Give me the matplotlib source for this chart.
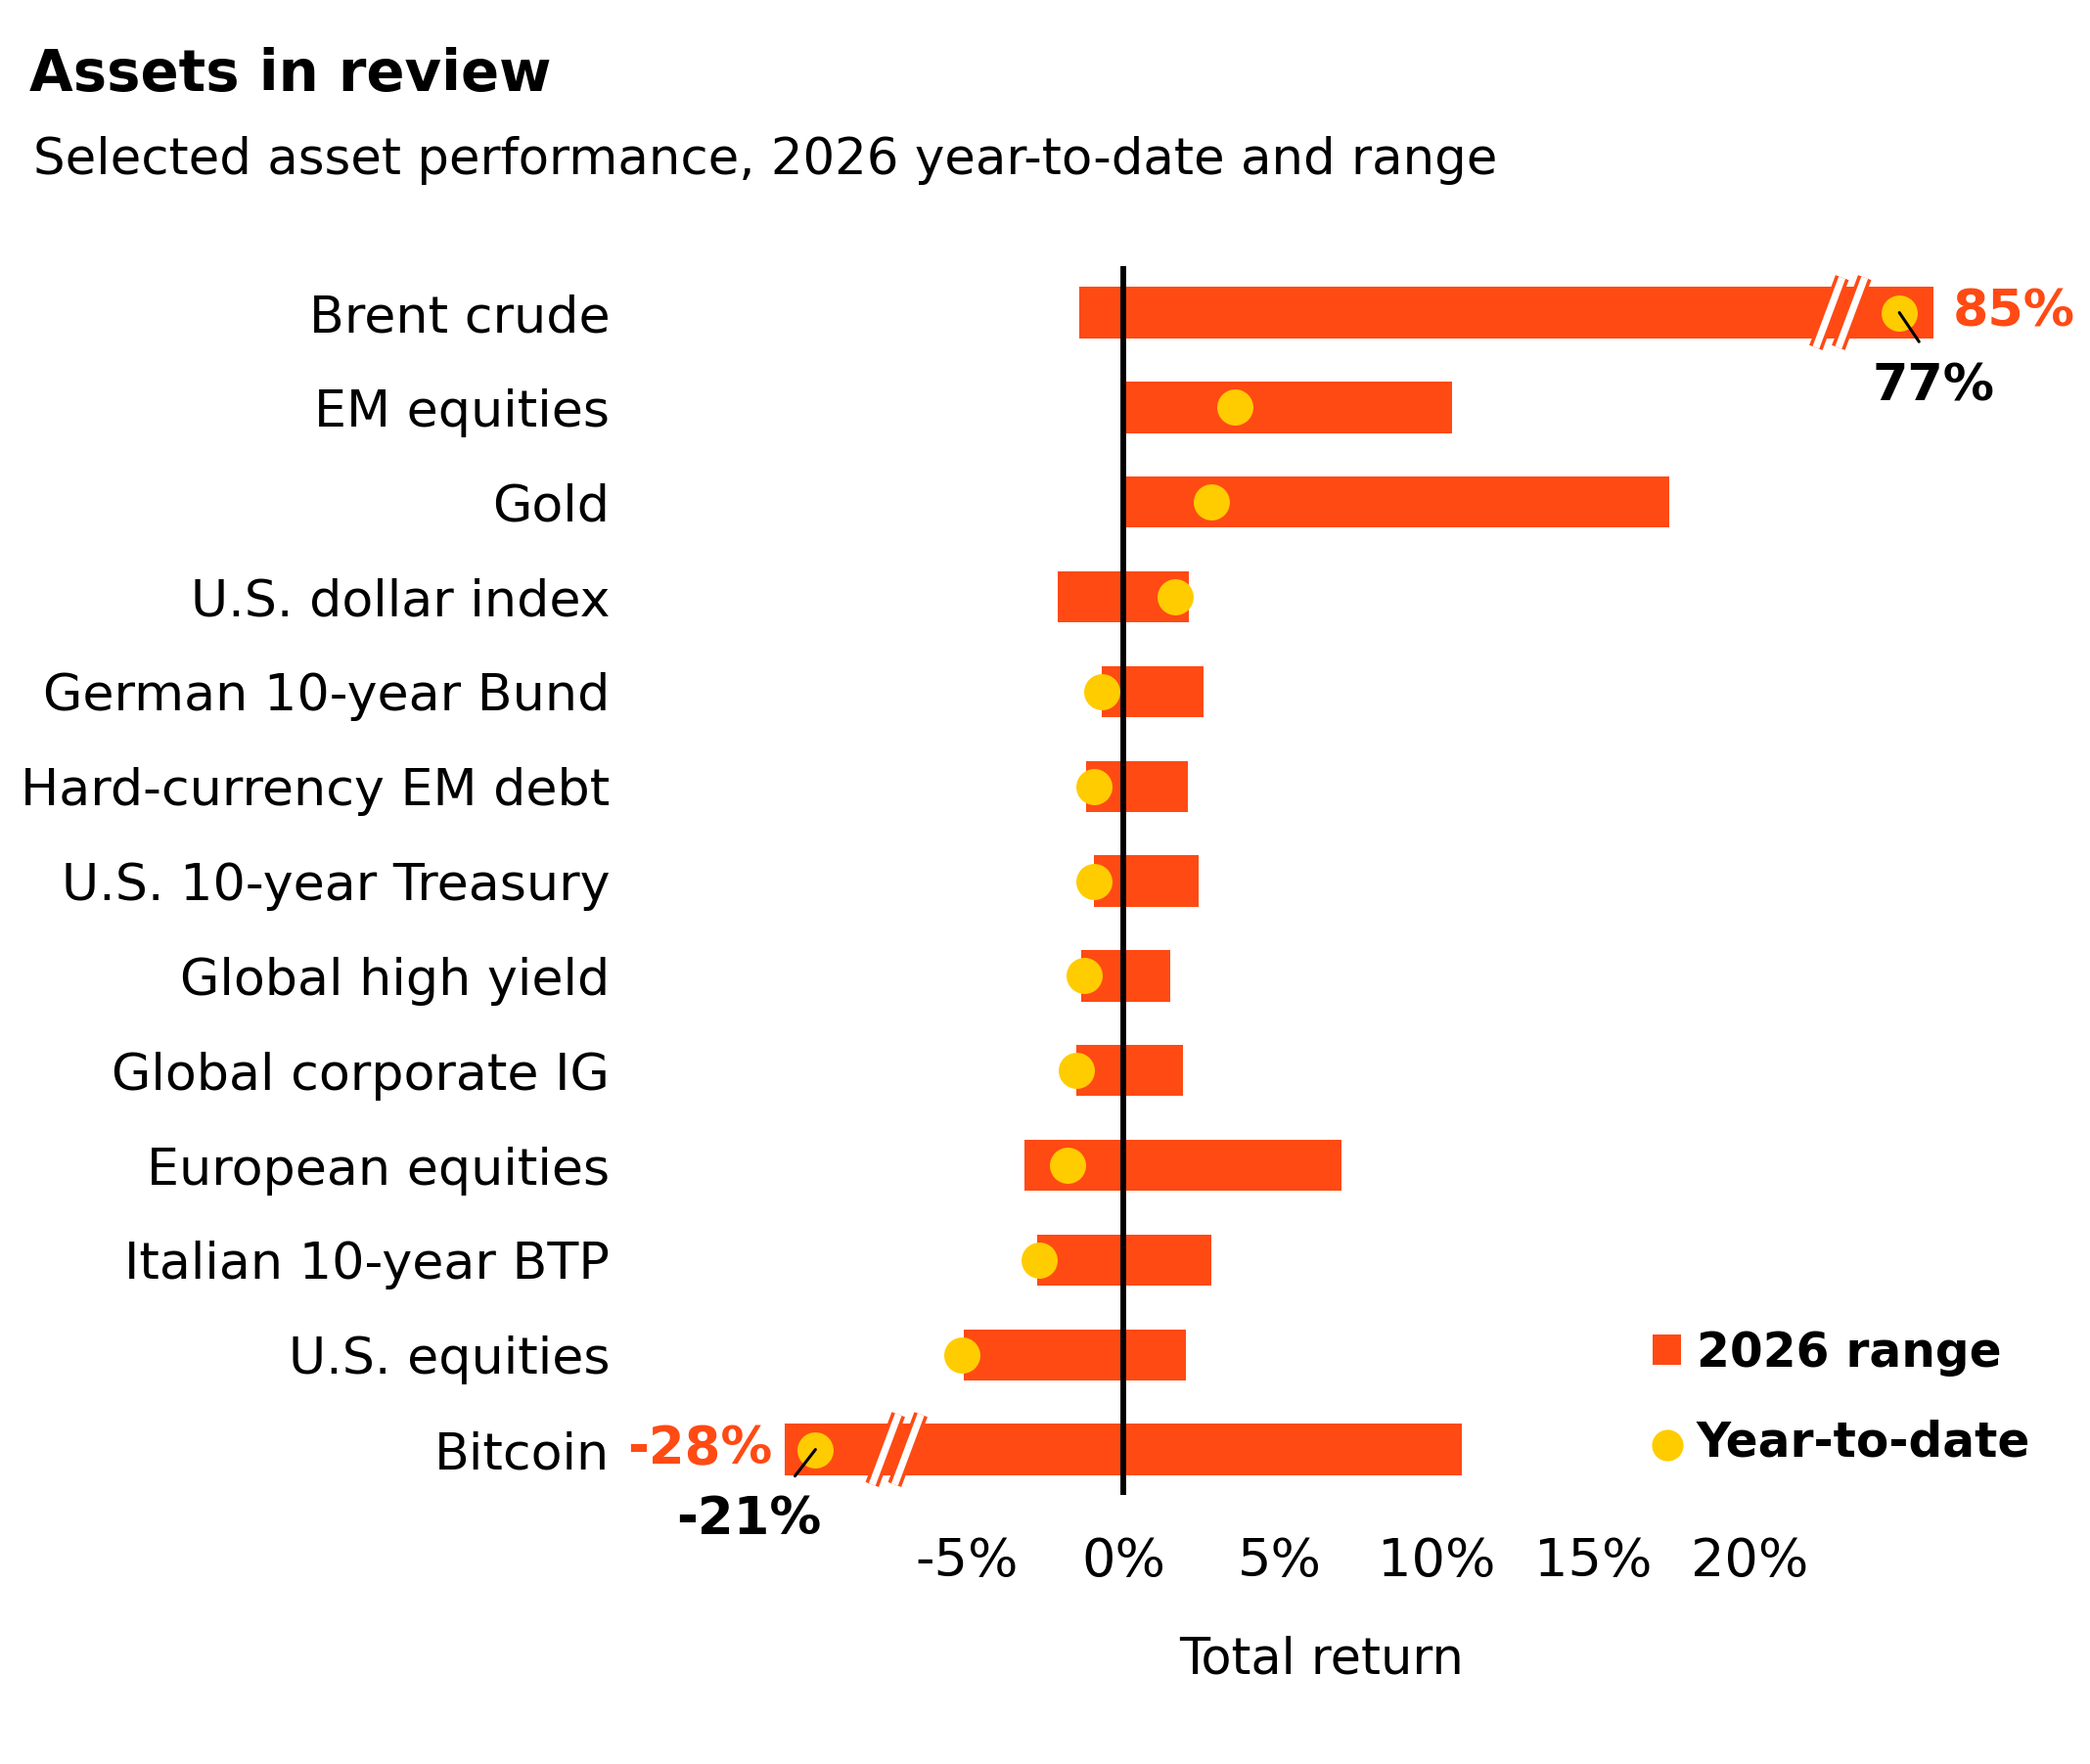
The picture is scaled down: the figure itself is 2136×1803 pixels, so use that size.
import numpy as np
import matplotlib
matplotlib.use("Agg")
import matplotlib.pyplot as plt

# ------------------------------------------------------------------
# data (percent total return)
# ------------------------------------------------------------------
assets = ["Brent crude", "EM equities", "Gold", "U.S. dollar index",
          "German 10-year Bund", "Hard-currency EM debt",
          "U.S. 10-year Treasury", "Global high yield",
          "Global corporate IG", "European equities",
          "Italian 10-year BTP", "U.S. equities", "Bitcoin"]
range_low = [-1.4, 0.0, 0.0, -2.1, -0.7, -1.2, -0.95, -1.35, -1.5, -3.15, -2.75, -5.1, -28.0]
range_high = [85.0, 10.5, 17.45, 2.1, 2.55, 2.05, 2.4, 1.5, 1.9, 6.95, 2.8, 2.0, 10.8]
ytd = [77.0, 3.55, 2.8, 1.65, -0.7, -0.95, -0.95, -1.25, -1.5, -1.8, -2.7, -5.15, -21.0]

xticks = [-5, 0, 5, 10, 15, 20]
xtick_labels = ["-5%", "0%", "5%", "10%", "15%", "20%"]

ORANGE = "#FF4A14"
YELLOW = "#FFCC00"

plt.rcParams["font.family"] = ["DejaVu Sans"]

# broken axis: piecewise linear scale, compressed beyond the breaks
knot_true = np.array([-1000.0, -8.0, 20.0, 64.0, 1000.0])
knot_disp = np.array([-8.0 - 992 * 0.1415, -8.0, 20.0, 23.0, 23.0 + 936 * 0.1375])


def fwd(x):
    return np.interp(x, knot_true, knot_disp)


def inv(y):
    return np.interp(y, knot_disp, knot_true)


fig = plt.figure(figsize=(10.68, 9.015), dpi=200)
ax = fig.add_axes([0.3698, 0.1525, 0.5871, 0.6966])
ax.set_xscale("function", functions=(fwd, inv))

ypos = np.arange(len(assets))
widths = [h - l for l, h in zip(range_low, range_high)]
bars = ax.barh(ypos, widths, left=range_low, height=0.54, color=ORANGE,
               label="2026 range", zorder=2)
dots = ax.scatter(ytd, ypos, s=13.3 ** 2, color=YELLOW, linewidths=0,
                  label="Year-to-date", zorder=4)
ax.axvline(0, color="black", lw=2.1, zorder=3)

# break marks on the two broken bars
for row, centre in [(0, 22.9), (len(assets) - 1, -7.25)]:
    for off in (-0.36, 0.36):
        xd = np.array([centre + off - 0.42, centre + off + 0.42])
        yy = np.array([row + 0.37, row - 0.37])
        ax.plot(inv(xd), yy, color=ORANGE, lw=5.2, solid_capstyle="butt",
                zorder=5, clip_on=False)
        ax.plot(inv(xd), yy, color="white", lw=2.6, solid_capstyle="butt",
                zorder=6, clip_on=False)

ax.set_xlim(inv(-11.2), inv(28.0))
ax.set_ylim(len(assets) - 0.52, -0.49)

ax.set_xticks(xticks, labels=xtick_labels)
ax.set_yticks(ypos, labels=assets)
ax.tick_params(axis="x", length=0, pad=15, labelsize=19.5)
ax.tick_params(axis="y", length=0, pad=60, labelsize=18.8)
for s in ax.spines.values():
    s.set_visible(False)

# end labels
ax.annotate("85%", xy=(range_high[0], 0), xytext=(7, 0), textcoords="offset points",
            ha="left", va="center", fontsize=18.8, fontweight="bold", color=ORANGE,
            annotation_clip=False)
ax.annotate("-28%", xy=(range_low[-1], len(assets) - 1), xytext=(-4.5, 0),
            textcoords="offset points", ha="right", va="center", fontsize=19,
            fontweight="bold", color=ORANGE, annotation_clip=False)
ax.annotate("77%", xy=(ytd[0], 0), xytext=(12.5, -18.5), textcoords="offset points",
            ha="center", va="top", fontsize=18.8, fontweight="bold", color="black",
            arrowprops=dict(arrowstyle="-", color="black", lw=1.1, relpos=(0.5, 1.0),
                            shrinkA=7, shrinkB=0),
            annotation_clip=False, zorder=7)
ax.annotate("-21%", xy=(ytd[-1], len(assets) - 1), xytext=(-24.5, -16.5),
            textcoords="offset points", ha="center", va="top", fontsize=19,
            fontweight="bold", color="black",
            arrowprops=dict(arrowstyle="-", color="black", lw=1.1, relpos=(0.72, 1.0),
                            shrinkA=6, shrinkB=0),
            annotation_clip=False, zorder=7)

fig.text(0.6325, 0.059, "Total return", ha="center", va="center", fontsize=18.3)

fig.text(0.014, 0.9484, "Assets in review", ha="left", va="baseline",
         fontsize=20.8, fontweight="bold")
fig.text(0.016, 0.9013, "Selected asset performance, 2026 year-to-date and range",
         ha="left", va="baseline", fontsize=18.5)

leg = fig.legend([bars, dots], ["2026 range", "Year-to-date"], loc="upper left",
                 bbox_to_anchor=(0.7908, 0.2463), frameon=False, borderpad=0,
                 borderaxespad=0, handlelength=0.6, handleheight=0.6,
                 handletextpad=0.32, labelspacing=0.9, markerscale=0.87,
                 prop=dict(size=17.5, weight="bold"))

fig.savefig("out.png", dpi=200)
